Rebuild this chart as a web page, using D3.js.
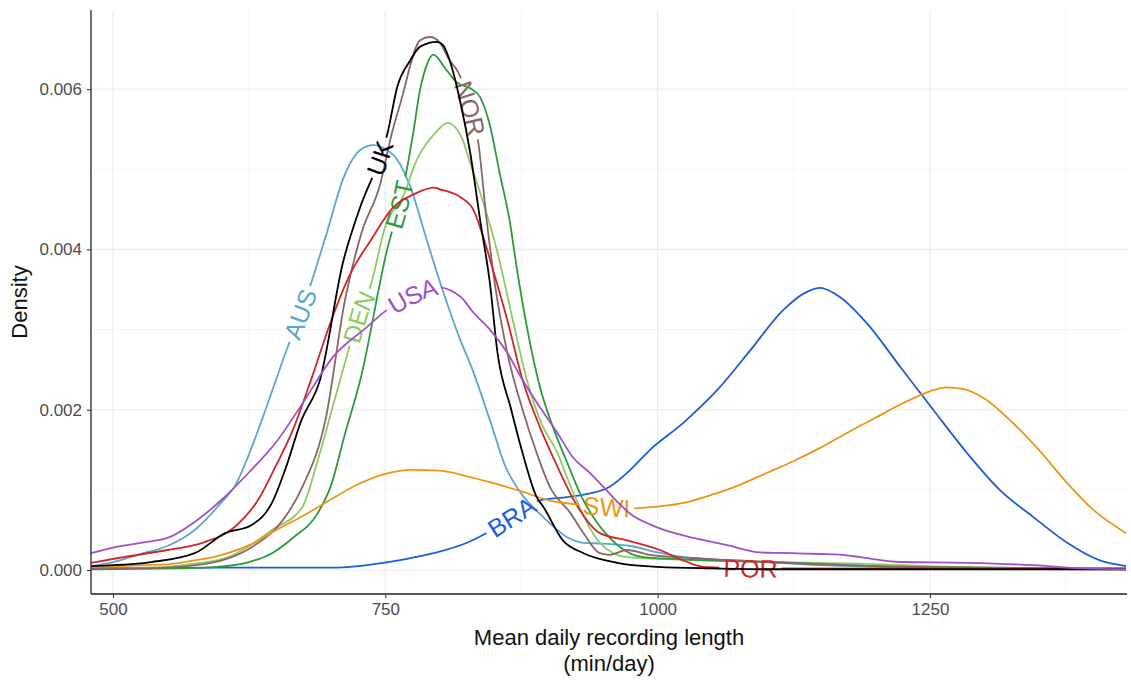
<!DOCTYPE html>
<html>
<head>
<meta charset="utf-8">
<script src="https://cdn.jsdelivr.net/npm/d3@7"></script>
<style>
body { margin: 0; background: #fff; }
text { font-family: "Liberation Sans", Arial, sans-serif; }
</style>
</head>
<body>
<div id="chart"></div>
<script>

// density curves, [minutes/day, density]
var AUS = [[480,0.00005],[500,0.0001],[525,0.0002],[550,0.0003],[575,0.0005],[600,0.00085],[612,0.00105],[625,0.00145],[640,0.002],[656,0.00262],[679,0.00346],[697,0.00424],[711,0.00487],[727,0.00524],[739,0.0053],[750,0.00525],[761,0.00512],[773,0.00478],[788,0.00412],[800,0.0036],[818,0.0029],[830,0.0025],[846,0.00187],[860,0.0013],[875,0.00095],[895,0.00066],[917,0.00041],[932,0.00034],[950,0.00033],[975,0.0003],[1000,0.00022],[1025,0.00016],[1050,0.00013],[1100,0.0001],[1150,0.00006],[1200,0.00004],[1300,0.00002],[1430,0.00001]];
var BRA = [[480,0.00002],[600,0.00003],[700,0.00003],[725,0.00005],[748,0.00009],[770,0.00014],[794,0.00021],[825,0.00034],[840,0.00044],[866,0.00066],[892,0.00087],[917,0.00091],[932,0.00094],[956,0.00104],[975,0.00125],[993,0.0015],[1023,0.00183],[1055,0.00225],[1085,0.00274],[1115,0.00324],[1137,0.00347],[1149,0.00352],[1167,0.00341],[1192,0.00308],[1223,0.00253],[1253,0.002],[1284,0.00146],[1314,0.001],[1345,0.00066],[1376,0.00034],[1406,0.00012],[1430,0.00005]];
var DEN = [[480,0.00002],[550,0.00004],[575,0.00008],[606,0.00016],[625,0.0003],[646,0.0005],[674,0.00079],[688,0.00137],[703,0.0021],[718,0.00283],[727,0.00324],[736,0.00353],[751,0.00433],[766,0.00465],[779,0.00512],[797,0.00547],[807,0.00558],[821,0.00537],[825,0.0052],[840,0.00458],[853,0.00396],[867,0.00312],[880,0.00237],[892,0.00187],[908,0.00146],[922,0.00098],[947,0.00034],[972,0.00016],[1040,0.00012],[1186,0.00008],[1300,0.00003],[1430,0.00002]];
var EST = [[480,0.00001],[560,0.00002],[596,0.00004],[625,0.0001],[646,0.00021],[665,0.0004],[688,0.00071],[700,0.00105],[713,0.0017],[727,0.00237],[751,0.00396],[766,0.00474],[775,0.0054],[782,0.006],[788,0.0063],[794,0.00643],[806,0.00624],[816,0.00608],[828,0.00601],[837,0.0059],[846,0.00555],[855,0.00495],[864,0.00437],[871,0.00374],[880,0.00303],[892,0.00228],[904,0.00178],[917,0.00134],[930,0.00092],[945,0.00058],[956,0.0004],[987,0.00016],[1050,0.00012],[1100,0.0001],[1200,0.00005],[1300,0.00003],[1430,0.00002]];
var NOR = [[480,0.00002],[520,0.00002],[560,0.00004],[600,0.00012],[628,0.00029],[658,0.00066],[674,0.00104],[695,0.00187],[713,0.00337],[728,0.0042],[745,0.0048],[756,0.00545],[764,0.00583],[782,0.00661],[791,0.00665],[800,0.00658],[809,0.00636],[817,0.00621],[828,0.00576],[835,0.00537],[843,0.00437],[851,0.00353],[862,0.00271],[876,0.002],[889,0.00146],[901,0.00104],[920,0.00071],[932,0.00046],[947,0.00021],[956,0.00019],[972,0.00025],[993,0.00019],[1033,0.00015],[1100,0.0001],[1200,0.00005],[1300,0.00003],[1430,0.00002]];
var POR = [[480,0.00009],[505,0.00015],[550,0.00025],[582,0.00034],[612,0.00054],[633,0.00087],[651,0.00134],[664,0.00171],[684,0.00246],[700,0.0031],[718,0.0037],[736,0.0041],[757,0.00452],[778,0.0047],[795,0.00477],[800,0.00475],[819,0.00465],[831,0.00449],[840,0.00415],[849,0.00374],[862,0.00312],[876,0.00237],[892,0.00178],[908,0.00129],[924,0.00085],[947,0.00046],[972,0.00037],[1002,0.00025],[1027,0.0001],[1042,0.00004],[1100,0.00002],[1430,0.00001]];
var SWI = [[480,0.00004],[500,0.00005],[550,0.00007],[575,0.00012],[600,0.00019],[625,0.00031],[650,0.0005],[675,0.00068],[700,0.00088],[725,0.00107],[750,0.0012],[775,0.00125],[800,0.00124],[825,0.00117],[850,0.00108],[875,0.00098],[900,0.00087],[925,0.00082],[950,0.00079],[975,0.00077],[1000,0.00079],[1025,0.00084],[1050,0.00094],[1075,0.00106],[1100,0.00121],[1125,0.00136],[1150,0.00153],[1175,0.00172],[1200,0.0019],[1225,0.00208],[1250,0.00223],[1265,0.00228],[1280,0.00226],[1300,0.00214],[1325,0.00185],[1350,0.0015],[1375,0.0011],[1400,0.00075],[1430,0.00046]];
var UK = [[480,0.00005],[500,0.00006],[535,0.0001],[575,0.00021],[603,0.00046],[627,0.00056],[646,0.00084],[658,0.00125],[673,0.00187],[690,0.00237],[711,0.00383],[727,0.00453],[745,0.00514],[752,0.00545],[761,0.00603],[773,0.00636],[782,0.00653],[797,0.00659],[803,0.00655],[809,0.00636],[819,0.00583],[828,0.0052],[837,0.00437],[846,0.00358],[853,0.00271],[865,0.00203],[876,0.00146],[889,0.00091],[895,0.00079],[913,0.00037],[932,0.00021],[963,0.00009],[1000,0.00004],[1050,0.00002],[1100,0.00001],[1430,0.00001]];
var USA = [[480,0.00021],[500,0.00028],[525,0.00034],[550,0.0004],[575,0.0006],[600,0.00088],[625,0.00122],[650,0.0016],[675,0.0021],[702,0.00266],[733,0.00303],[750,0.00323],[775,0.00343],[797,0.00353],[819,0.00341],[831,0.00321],[846,0.003],[862,0.00271],[876,0.00237],[892,0.00203],[908,0.00171],[922,0.00141],[938,0.00121],[950,0.00104],[963,0.00085],[975,0.0007],[993,0.00057],[1002,0.00052],[1033,0.0004],[1064,0.00031],[1094,0.00022],[1124,0.00021],[1150,0.0002],[1170,0.00019],[1186,0.00016],[1223,0.0001],[1284,0.00009],[1345,0.00006],[1390,0.00002],[1430,0.00001]];

var countries = ["AUS", "BRA", "DEN", "EST", "NOR", "POR", "SWI", "UK", "USA"];
var series = [AUS, BRA, DEN, EST, NOR, POR, SWI, UK, USA];
var colours = ["#5ba6d2", "#1c5ed6", "#8bcc62", "#2b9c3a", "#8c6565", "#d0262a", "#ef9514", "#000000", "#a050c8"];
// x position (min/day) of the middle of each label
var labelAt = [672, 866, 725, 763, 828, 1085, 953, 745, 775];

var xTicks = [500, 750, 1000, 1250];
var xMinor = [625, 875, 1125, 1375];
var yTicks = [0, 0.002, 0.004, 0.006];
var yMinor = [0.001, 0.003, 0.005];

var margin = {top: 10, right: 4, bottom: 87, left: 91},
    width = 1131 - margin.left - margin.right,
    height = 681 - margin.top - margin.bottom;

var x = d3.scaleLinear().domain([479.8, 1430.9]).range([0, width]);
var y = d3.scaleLinear().domain([-0.000299, 0.006987]).range([height, 0]);

var svg = d3.select("#chart")
    .append("svg")
    .attr("width", width + margin.left + margin.right)
    .attr("height", height + margin.top + margin.bottom)
    .append("g")
    .attr("transform", "translate(" + margin.left + "," + margin.top + ")");

// grid
svg.selectAll(".xminor").data(xMinor).enter().append("line")
    .attr("x1", d => x(d)).attr("x2", d => x(d)).attr("y1", 0).attr("y2", height)
    .attr("stroke", "#f2f2f2").attr("stroke-width", 0.8);
svg.selectAll(".yminor").data(yMinor).enter().append("line")
    .attr("y1", d => y(d)).attr("y2", d => y(d)).attr("x1", 0).attr("x2", width)
    .attr("stroke", "#f2f2f2").attr("stroke-width", 0.8);
svg.selectAll(".xmajor").data(xTicks).enter().append("line")
    .attr("x1", d => x(d)).attr("x2", d => x(d)).attr("y1", 0).attr("y2", height)
    .attr("stroke", "#ebebeb").attr("stroke-width", 1.1);
svg.selectAll(".ymajor").data(yTicks).enter().append("line")
    .attr("y1", d => y(d)).attr("y2", d => y(d)).attr("x1", 0).attr("x2", width)
    .attr("stroke", "#ebebeb").attr("stroke-width", 1.1);

// curves with labels along them
var line = d3.line()
    .x(d => x(d[0]))
    .y(d => y(d[1]))
    .curve(d3.curveMonotoneX);

series.forEach(function(s, i) {
  var path = svg.append("path")
      .attr("id", "curve" + i)
      .attr("d", line(s))
      .attr("fill", "none")
      .attr("stroke", colours[i])
      .attr("stroke-width", 1.8)
      .attr("stroke-linejoin", "round");
  var node = path.node(), total = node.getTotalLength();
  var tx = x(labelAt[i]), lo = 0, hi = total;
  for (var k = 0; k < 40; k++) {
    var mid = (lo + hi) / 2;
    if (node.getPointAtLength(mid).x < tx) lo = mid; else hi = mid;
  }
  var probe = svg.append("text").attr("font-size", 25).text(countries[i]);
  var len = probe.node().getComputedTextLength();
  probe.remove();

  svg.append("text")
      .attr("font-size", 25)
      .attr("fill", colours[i])
      .attr("text-anchor", "middle")
      .attr("dy", "0.36em")
      .append("textPath")
      .attr("href", "#curve" + i)
      .attr("startOffset", lo)
      .text(countries[i]);

  path.attr("stroke-dasharray", (lo - len / 2 - 4) + " " + (len + 8) + " " + total);
});

// axes
var xAxis = svg.append("g")
    .attr("transform", "translate(0," + height + ")")
    .call(d3.axisBottom(x).tickValues(xTicks).tickSize(4).tickPadding(5).tickFormat(d3.format("d")));
var yAxis = svg.append("g")
    .call(d3.axisLeft(y).tickValues(yTicks).tickSize(4).tickPadding(5).tickFormat(d3.format(".3f")));

[xAxis, yAxis].forEach(function(a) {
  a.attr("font-size", 17).attr("font-family", null);
  a.select(".domain").attr("stroke", "#222").attr("stroke-width", 1.3);
  a.selectAll(".tick line").attr("stroke", "#333").attr("stroke-width", 1.1);
  a.selectAll(".tick text").attr("fill", "#4d4d4d");
});
yAxis.select(".domain").attr("d", "M0," + height + "V0");
xAxis.select(".domain").attr("d", "M0,0H" + width);

// axis titles
svg.append("text")
    .attr("x", width / 2).attr("y", height + 51)
    .attr("text-anchor", "middle").attr("font-size", 22).attr("fill", "#111")
    .text("Mean daily recording length");
svg.append("text")
    .attr("x", width / 2).attr("y", height + 77)
    .attr("text-anchor", "middle").attr("font-size", 22).attr("fill", "#111")
    .text("(min/day)");
svg.append("text")
    .attr("transform", "translate(" + (-64) + "," + (height / 2) + ") rotate(-90)")
    .attr("text-anchor", "middle").attr("font-size", 22).attr("fill", "#111")
    .text("Density");

</script>
</body>
</html>
